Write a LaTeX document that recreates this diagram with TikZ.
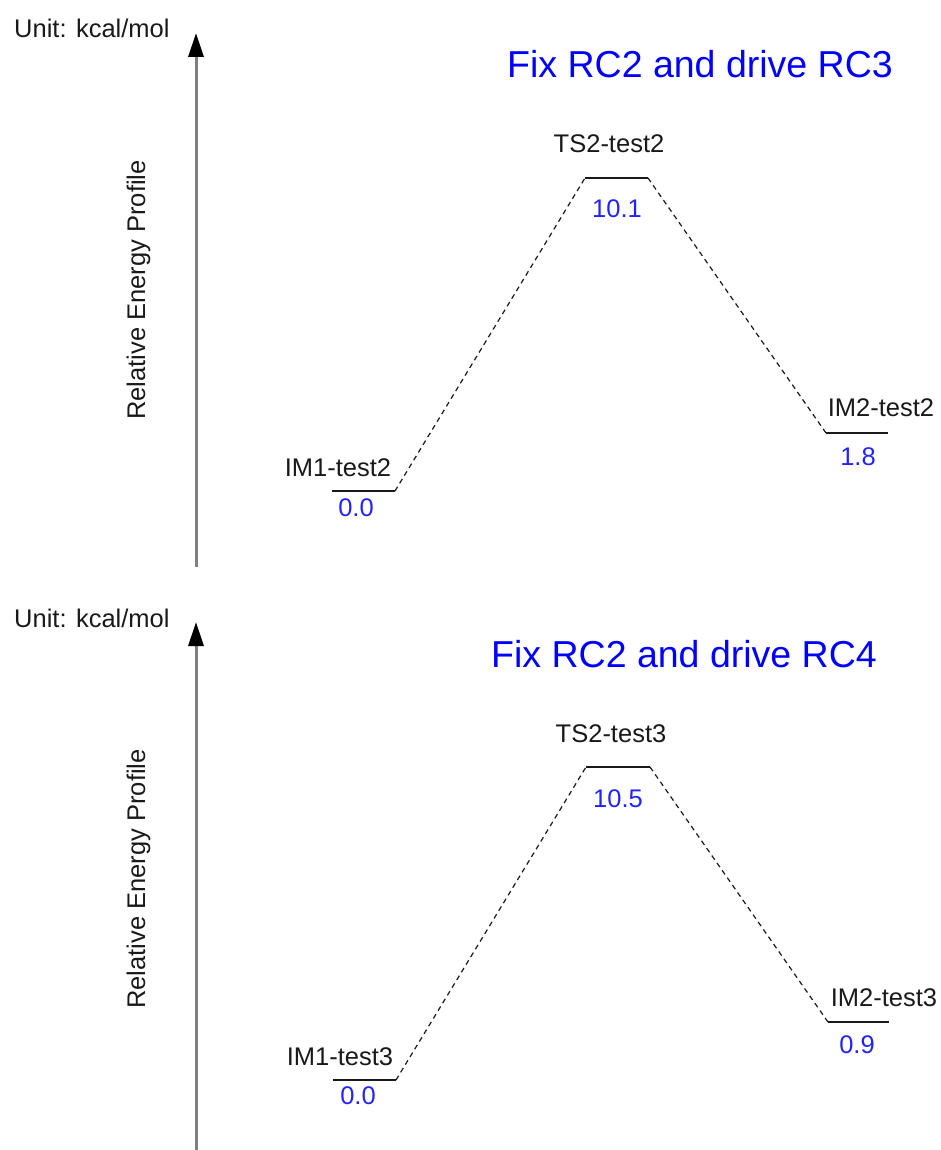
\documentclass[tikz,border=0pt]{standalone}
\usepackage{fontspec}
\setmainfont{Liberation Sans}
\usetikzlibrary{arrows.meta}
\definecolor{ink}{RGB}{25,25,25}
\definecolor{axisgray}{RGB}{128,128,128}
\definecolor{valblue}{RGB}{35,35,255}
\definecolor{ttlblue}{RGB}{0,0,255}
\tikzset{
  lvl/.style={line width=2pt, draw=ink},
  conn/.style={dash pattern=on 5pt off 4pt, line width=1.2pt, draw=ink},
  yaxis/.style={-{Triangle[length=24pt,width=15pt,color=black]}, line width=3pt, draw=axisgray},
  lbl/.style={font=\fontsize{25.5}{30}\selectfont, text=ink, inner sep=0pt, anchor=base},
  val/.style={lbl, text=valblue},
  ttl/.style={font=\fontsize{37.5}{44}\selectfont, text=ttlblue, inner sep=0pt, anchor=base},
  unit/.style={lbl, anchor=base west},
  ylab/.style={lbl, rotate=90},
}

\begin{document}
\begin{tikzpicture}[x=1pt, y=-1pt]
  \useasboundingbox (0,0) rectangle (941,1150);
  % upper profile
  \node[unit] (unit1) at (14,38) {Unit: kcal/mol};
  \coordinate (axbot1) at (196,567);
  \coordinate (axtop1) at (196,33);
  \draw[yaxis] (axbot1) -- (axtop1);
  \node[ylab] (ylab1) at (145,290) {Relative Energy Profile};
  \node[ttl] (ttl1) at (700,78) {Fix RC2 and drive RC3};
  \coordinate (im1l1) at (332,491); \coordinate (im1r1) at (395,491);
  \coordinate (ts2l1) at (585,178); \coordinate (ts2r1) at (648,178);
  \coordinate (im2l1) at (826,433); \coordinate (im2r1) at (888,433);
  \draw[lvl] (im1l1) -- (im1r1);
  \draw[lvl] (ts2l1) -- (ts2r1);
  \draw[lvl] (im2l1) -- (im2r1);
  \draw[conn] (im1r1) -- (ts2l1);
  \draw[conn] (ts2r1) -- (im2l1);
  \node[lbl] (im1n1) at (338,476) {IM1-test2};
  \node[val] (im1e1) at (356,516) {0.0};
  \node[lbl] (ts2n1) at (609,153) {TS2-test2};
  \node[val] (ts2e1) at (617,218) {10.1};
  \node[lbl] (im2n1) at (881,416) {IM2-test2};
  \node[val] (im2e1) at (858,465) {1.8};
  % lower profile
  \node[unit] (unit2) at (14,627) {Unit: kcal/mol};
  \coordinate (axbot2) at (196,1152);
  \coordinate (axtop2) at (196,622);
  \draw[yaxis] (axbot2) -- (axtop2);
  \node[ylab] (ylab2) at (145,879) {Relative Energy Profile};
  \node[ttl] (ttl2) at (684,667) {Fix RC2 and drive RC4};
  \coordinate (im1l2) at (333,1080); \coordinate (im1r2) at (396,1080);
  \coordinate (ts2l2) at (586,767); \coordinate (ts2r2) at (650,767);
  \coordinate (im2l2) at (828,1022); \coordinate (im2r2) at (889,1022);
  \draw[lvl] (im1l2) -- (im1r2);
  \draw[lvl] (ts2l2) -- (ts2r2);
  \draw[lvl] (im2l2) -- (im2r2);
  \draw[conn] (im1r2) -- (ts2l2);
  \draw[conn] (ts2r2) -- (im2l2);
  \node[lbl] (im1n2) at (340,1065) {IM1-test3};
  \node[val] (im1e2) at (358,1104) {0.0};
  \node[lbl] (ts2n2) at (611,742) {TS2-test3};
  \node[val] (ts2e2) at (618,807) {10.5};
  \node[lbl] (im2n2) at (884,1006) {IM2-test3};
  \node[val] (im2e2) at (857,1053) {0.9};
\end{tikzpicture}
\end{document}
